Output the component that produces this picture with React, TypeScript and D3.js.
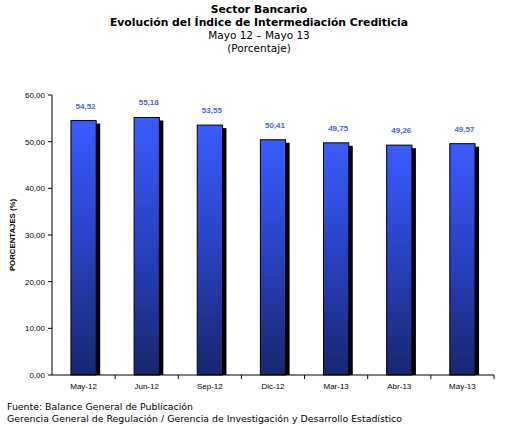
import React from "react";
import * as d3 from "d3";

const categories = ["May-12", "Jun-12", "Sep-12", "Dic-12", "Mar-13", "Abr-13", "May-13"];
const values = [54.52, 55.18, 53.55, 50.41, 49.75, 49.26, 49.57];
const yTicks = [0, 10, 20, 30, 40, 50, 60];
const titleLines = ["Sector Bancario", "Evolución del Índice de Intermediación Crediticia"];
const subtitleLines = ["Mayo 12 – Mayo 13", "(Porcentaje)"];
const footerLines = [
  "Fuente: Balance General de Publicación",
  "Gerencia General de Regulación / Gerencia de Investigación y Desarrollo Estadístico",
];

const W = 518;
const H = 428;
const left = 52;
const right = 494;
const top = 95;
const bottom = 375;

const fmt = (v: number) => v.toFixed(2).replace(".", ",");

export default function App() {
  const x = d3.scaleBand<string>().domain(categories).range([left, right]).paddingInner(0.6).paddingOuter(0.3);
  const xb = d3.scaleBand<string>().domain(categories).range([left, right]);
  const y = d3.scaleLinear().domain([0, 60]).range([bottom, top]);
  const bw = x.bandwidth();
  const titleFont = "Verdana, 'DejaVu Sans', sans-serif";
  const axisFont = "Arial, 'Liberation Sans', sans-serif";

  return (
    <svg width={W} height={H} style={{ position: "absolute", left: 0, top: 0, background: "#fff" }}>
      <defs>
        <linearGradient id="barGrad" x1="0" y1="0" x2="0" y2="1">
          <stop offset="0%" stopColor="#3a5cff" />
          <stop offset="45%" stopColor="#2a44c8" />
          <stop offset="100%" stopColor="#18266e" />
        </linearGradient>
      </defs>
      {titleLines.map((t, i) => (
        <text key={"t" + i} x={259} y={13 + i * 13} textAnchor="middle" fontFamily={titleFont} fontWeight="bold" fontSize={10.8} fill="#000">
          {t}
        </text>
      ))}
      {subtitleLines.map((t, i) => (
        <text key={"s" + i} x={259} y={39 + i * 12.5} textAnchor="middle" fontFamily={titleFont} fontSize={10.5} fill="#000">
          {t}
        </text>
      ))}
      {yTicks.map((t) => (
        <g key={"y" + t}>
          <line x1={left - 4} x2={left} y1={y(t)} y2={y(t)} stroke="#000" strokeWidth={1} />
          <text x={left - 7} y={y(t) + 3} textAnchor="end" fontFamily={axisFont} fontSize={8} fill="#000">
            {fmt(t)}
          </text>
        </g>
      ))}
      <text
        transform={`translate(15,${(top + bottom) / 2}) rotate(-90)`}
        textAnchor="middle"
        fontFamily={axisFont}
        fontWeight="bold"
        fontSize={7.8}
        fill="#000"
      >
        PORCENTAJES (%)
      </text>
      {categories.map((c, i) => {
        const bx = x(c) as number;
        const by = y(values[i]);
        const h = bottom - by;
        return (
          <g key={"b" + c}>
            <rect x={bx + 4} y={by + 3} width={bw} height={h - 3} fill="#000" />
            <rect x={bx} y={by} width={bw} height={h} fill="url(#barGrad)" stroke="#000" strokeWidth={1} />
            <text x={bx + bw / 2 + 2} y={by - 12} textAnchor="middle" fontFamily={axisFont} fontWeight="bold" fontSize={8} fill="#4a66cc">
              {fmt(values[i])}
            </text>
          </g>
        );
      })}
      <line x1={left} x2={left} y1={top} y2={bottom} stroke="#000" strokeWidth={1} />
      <line x1={left} x2={right} y1={bottom} y2={bottom} stroke="#000" strokeWidth={1} />
      {categories.map((c) => (
        <g key={"x" + c}>
          <line x1={(xb(c) as number) + xb.bandwidth()} x2={(xb(c) as number) + xb.bandwidth()} y1={bottom} y2={bottom + 4} stroke="#000" strokeWidth={1} />
          <text x={(xb(c) as number) + xb.bandwidth() / 2} y={bottom + 14} textAnchor="middle" fontFamily={axisFont} fontSize={8} fill="#000">
            {c}
          </text>
        </g>
      ))}
      {footerLines.map((t, i) => (
        <text key={"f" + i} x={7} y={410 + i * 12} fontFamily={titleFont} fontSize={9.4} fill="#000">
          {t}
        </text>
      ))}
    </svg>
  );
}
